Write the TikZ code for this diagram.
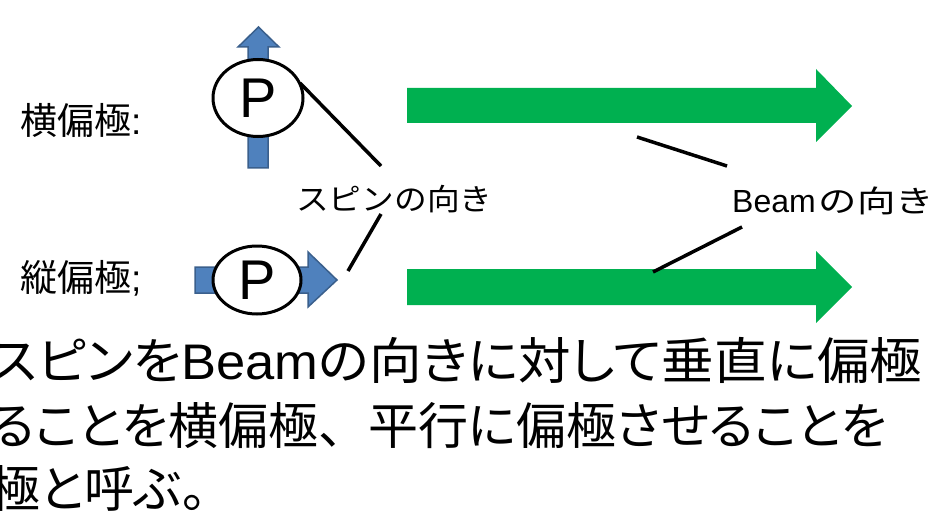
\documentclass[tikz,border=0pt]{standalone}
\usepackage{fontspec}
\setmainfont{Noto Sans CJK JP}[RawFeature=+palt]
\newfontfamily\jpm{Noto Sans CJK JP}
\newfontfamily\lat{Liberation Sans}
\usetikzlibrary{shapes.geometric}
\definecolor{spinblue}{HTML}{4F81BD}
\definecolor{spinedge}{HTML}{3A5F8C}
\definecolor{beamgreen}{HTML}{00B050}
\begin{document}
\begin{tikzpicture}[x=1pt,y=-1pt,
  txt/.style={inner sep=0pt, anchor=base west},
  callout/.style={line width=3.5pt, line cap=butt},
  spinarrow/.style={fill=spinblue, draw=spinedge, line width=1.5pt, line join=miter},
  beamarrow/.style={fill=beamgreen, draw=none},
  pball/.style={ellipse, draw=black, line width=3pt, fill=white, inner sep=0pt, font=\lat\fontsize{56}{60}\selectfont}]
\useasboundingbox (0,0) rectangle (949,513);
\clip (0,0) rectangle (949,513);

% labels
\node[txt, font=\fontsize{37}{40}\selectfont] (trans) at (20,135) {横偏極{\lat :}};
\node[txt, font=\fontsize{37}{40}\selectfont] (long) at (20,291) {縦偏極{\lat ;}};

% blue spin arrows
\draw[spinarrow] (248,168) -- (248,47) -- (238,47) -- (258.5,27) -- (279,47) -- (268,47) -- (268,168) -- cycle;
\draw[spinarrow] (195,267) -- (308,267) -- (308,252) -- (337,280) -- (308,307) -- (308,293) -- (195,293) -- cycle;

% P balls
\node[pball, minimum width=90pt, minimum height=77pt] (p1) at (258,98) {P};
\node[pball, minimum width=88pt, minimum height=68pt] (p2) at (257,280) {P};

% green beam arrows
\fill[beamarrow] (407,88) -- (816,88) -- (816,69) -- (852,106) -- (816,142) -- (816,123) -- (407,123) -- cycle;
\fill[beamarrow] (407,269) -- (816,269) -- (816,251) -- (852,287) -- (816,323) -- (816,305) -- (407,305) -- cycle;

% middle labels
\node[txt, font=\jpm\fontsize{30}{34}\selectfont] (spinlab) at (296,210) {\scalebox{1.09}[1]{スピンの向き}};
\node[txt, font=\fontsize{32}{36}\selectfont] (beamlab) at (732,212) {{\lat Beam}\hspace{3pt}\scalebox{1.2}[0.95]{\jpm の向き}};

% callout lines
\coordinate (a1) at (300,83);
\coordinate (a2) at (381,166);
\coordinate (b1) at (381,214);
\coordinate (b2) at (348,271);
\coordinate (c1) at (637,137);
\coordinate (c2) at (727,166);
\coordinate (d1) at (742,227);
\coordinate (d2) at (653,272);
\draw[callout] (a1) -- (a2);
\draw[callout] (b1) -- (b2);
\draw[callout] (c1) -- (c2);
\draw[callout] (d1) -- (d2);

% bottom text
\node[txt, font=\fontsize{50}{60}\selectfont] (l1) at (-10,379) {\scalebox{1.05}[1]{スピンを{\lat Beam}の向きに対して垂直に偏極}};
\node[txt, font=\fontsize{50}{60}\selectfont] (l2) at (-10,444) {ることを横偏極{\jpm 、}平行に偏極させることを};
\node[txt, font=\fontsize{50}{60}\selectfont] (l3) at (-10,507) {極と呼ぶ。};
\end{tikzpicture}
\end{document}
